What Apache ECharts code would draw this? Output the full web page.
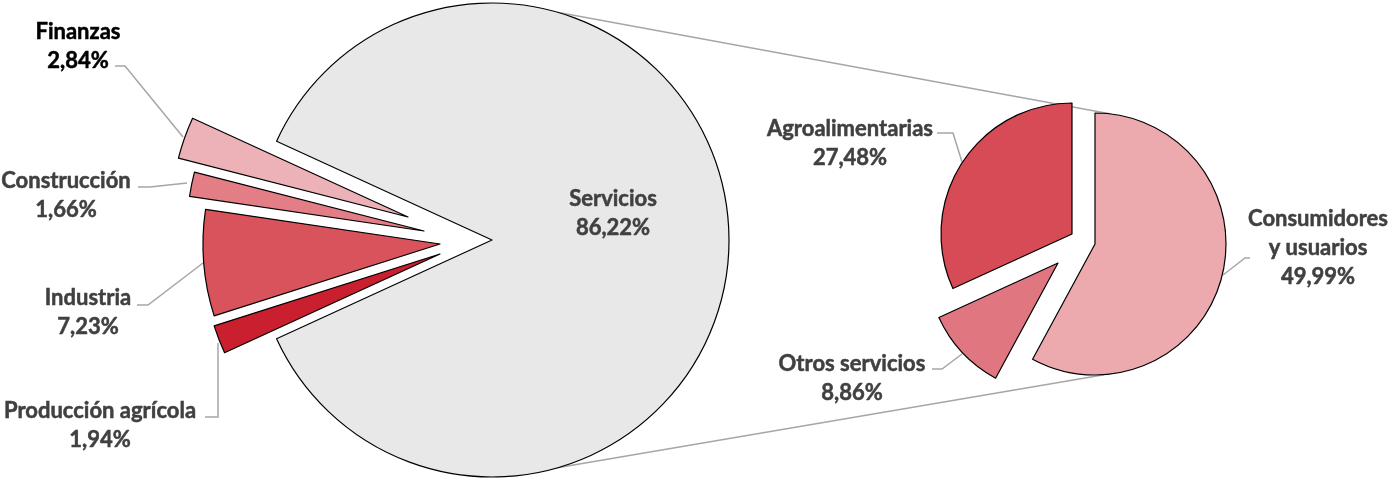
<!DOCTYPE html>
<html>
<head>
<meta charset="utf-8">
<script src="https://cdn.jsdelivr.net/npm/echarts@6.0.0/dist/echarts.min.js"></script>
<style>
html, body { margin: 0; padding: 0; background: #fff; }
#main { width: 1391px; height: 480px; }
</style>
</head>
<body>
<div id="main"></div>
<script>
var myChart = echarts.init(document.getElementById('main'));

// sectores (pie principal)
var leftNames = ['Finanzas', 'Construcción', 'Industria', 'Producción agrícola', 'Servicios'];
var leftValues = [2.84, 1.66, 7.23, 1.94, 86.22];
// desglose de Servicios (pie secundario)
var rightNames = ['Consumidores y usuarios', 'Otros servicios', 'Agroalimentarias'];
var rightValues = [49.99, 8.86, 27.48];

var leftColors = ['#edb2b7', '#e37e86', '#d9535c', '#c91f2e', '#e8e8e8'];
var rightColors = ['#ecaaae', '#e07780', '#d64b55'];

// geometria
var leftCenter = [492, 240], leftR = 237;
var rightCenter = [1095, 244], rightR = 131;
var leftExplode = [[-84, -23], [-68, -9], [-52, 4], [-52, 14], [0, 0]];
var rightExplode = [[0, 0], [-37, 19], [-23, -10]];

// posicion de etiquetas y lineas guia
var leftLabelPos = [[78, 46], [66, 195], [88, 312], [100, 425], [613, 213]];
var leftLabelLines = [
    [[183, 137], [125, 66], [115, 66]],
    [[187, 183], [150, 187], [138, 187]],
    [[203, 263], [148, 305], [137, 305]],
    [[218, 343], [218, 417], [205, 417]],
    null
];
var rightLabelPos = [[1318, 248], [852, 378], [850, 143]];
var rightLabelLines = [
    [[1223, 275], [1245, 258], [1250, 258]],
    [[962, 354], [942, 369], [932, 369]],
    [[962, 162], [953, 133], [937, 133]]
];

function fmt(v) {
    return v.toFixed(2).replace('.', ',') + '%';
}

var smallSum = 0, total = 0;
leftValues.forEach(function (v, i) {
    total += v;
    if (i < 4) smallSum += v;
});
var leftStart = 180 - smallSum / total * 360 / 2;

function sliceSeries(names, values, colors, idx, center, explode, r, startAngle, clockwise, labelPos, labelLines) {
    var data = names.map(function (n, i) {
        var on = i === idx;
        return {
            name: n,
            value: values[i],
            itemStyle: on
                ? { color: colors[i], borderColor: '#000', borderWidth: 1.2 }
                : { color: 'rgba(0,0,0,0)', borderWidth: 0 },
            label: { show: on },
            labelLine: { show: on && !!labelLines[i] }
        };
    });
    var txtColor = names[idx] === 'Finanzas' ? '#000' : '#404040';
    return {
        type: 'pie',
        silent: true,
        center: [center[0] + explode[idx][0], center[1] + explode[idx][1]],
        radius: r,
        startAngle: startAngle,
        clockwise: clockwise,
        avoidLabelOverlap: false,
        emphasis: { disabled: true },
        data: data,
        label: {
            fontFamily: 'Lato',
            fontWeight: 'bold',
            fontSize: 22,
            lineHeight: 29,
            color: txtColor,
            textBorderColor: txtColor,
            textBorderWidth: 0.5,
            align: 'center',
            formatter: function (p) {
                return p.name.replace(' y ', '\ny ') + '\n' + fmt(p.value);
            }
        },
        labelLine: {
            lineStyle: { color: '#a6a6a6', width: 1.5 }
        },
        labelLayout: function () {
            var o = {
                x: labelPos[idx][0],
                y: labelPos[idx][1],
                align: 'center',
                verticalAlign: 'middle'
            };
            if (labelLines[idx]) o.labelLinePoints = labelLines[idx];
            return o;
        }
    };
}

var series = [];
leftNames.forEach(function (n, i) {
    series.push(sliceSeries(leftNames, leftValues, leftColors, i, leftCenter, leftExplode,
        leftR, leftStart, false, leftLabelPos, leftLabelLines));
});
rightNames.forEach(function (n, i) {
    series.push(sliceSeries(rightNames, rightValues, rightColors, i, rightCenter, rightExplode,
        rightR, 90, true, rightLabelPos, rightLabelLines));
});

function onCircle(c, r, deg) {
    var a = deg * Math.PI / 180;
    return [c[0] + r * Math.cos(a), c[1] - r * Math.sin(a)];
}
var up1 = onCircle(leftCenter, leftR, 74), up2 = onCircle(rightCenter, rightR, 83);
var dn1 = onCircle(leftCenter, leftR, -74), dn2 = onCircle(rightCenter, rightR, -86);

option = {
    backgroundColor: '#fff',
    animation: false,
    graphic: [{
        type: 'line', z: 0,
        shape: { x1: up1[0], y1: up1[1], x2: up2[0], y2: up2[1] },
        style: { stroke: '#a6a6a6', lineWidth: 1.5 }
    }, {
        type: 'line', z: 0,
        shape: { x1: dn1[0], y1: dn1[1], x2: dn2[0], y2: dn2[1] },
        style: { stroke: '#a6a6a6', lineWidth: 1.5 }
    }],
    series: series
};

myChart.setOption(option);
</script>
</body>
</html>
